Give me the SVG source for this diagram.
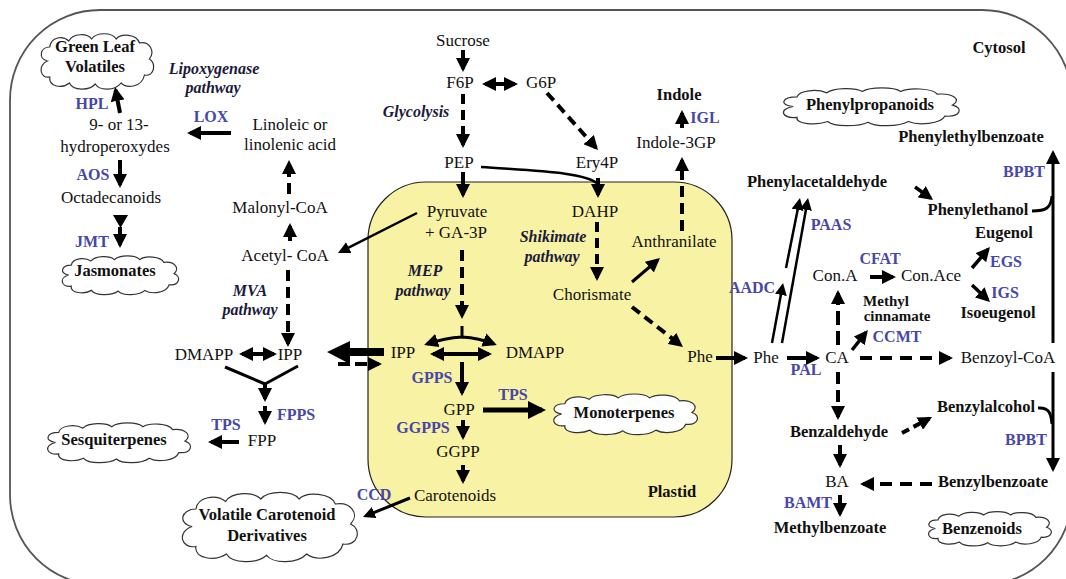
<svg xmlns="http://www.w3.org/2000/svg" xmlns:xlink="http://www.w3.org/1999/xlink" width="1066" height="579" viewBox="0 0 1066 579" font-family="Liberation Serif, Times New Roman, serif">
<style>
text{fill:#111;text-anchor:middle}
.t{font-size:17px}
.b{font-size:16.5px;font-weight:bold}
.bs{font-size:15px;font-weight:bold}
.bi{font-size:16px;font-weight:bold;font-style:italic;fill:#1a1a3a}
.e{font-size:16px;font-weight:bold;fill:#4747a8}
.s{fill:none;stroke:#000;stroke-width:4;marker-end:url(#a)}
.d{fill:none;stroke:#000;stroke-width:4;stroke-dasharray:11 6;marker-end:url(#a)}
.th{fill:none;stroke:#000;stroke-width:2.5;marker-end:url(#as)}
.dbl{fill:none;stroke:#000;stroke-width:4;marker-start:url(#a);marker-end:url(#a)}
.ln{fill:none;stroke:#000;stroke-width:3}
</style>
<defs>
<marker id="a" markerUnits="userSpaceOnUse" markerWidth="14" markerHeight="14" refX="11" refY="7" orient="auto-start-reverse"><path d="M0,0 L14,7 L0,14 Z" fill="#000"/></marker>
<marker id="as" markerUnits="userSpaceOnUse" markerWidth="12" markerHeight="12" refX="9" refY="6" orient="auto-start-reverse"><path d="M0,0 L12,6 L0,12 Z" fill="#000"/></marker>
<marker id="ab" markerUnits="userSpaceOnUse" markerWidth="18" markerHeight="18" refX="14" refY="9" orient="auto"><path d="M0,0 L18,9 L0,18 Z" fill="#000"/></marker>
<symbol id="cloud" viewBox="0 0 200 60" preserveAspectRatio="none">
<path vector-effect="non-scaling-stroke" fill="#fff" stroke="#333" stroke-width="1.2" d="M20,30 C5,28 8,16 24,16 C26,6 45,4 55,10 C62,2 85,2 92,8 C100,1 125,1 132,8 C140,2 165,3 170,12 C186,10 196,20 186,28 C198,32 194,46 178,44 C174,56 150,58 140,52 C130,60 105,60 98,53 C88,60 62,60 56,52 C44,58 22,56 24,46 C8,48 4,34 20,30 Z"/>
</symbol>
</defs>

<g id="cytosol">
<rect x="10" y="10" width="1062" height="575" rx="90" ry="90" fill="none" stroke="#555" stroke-width="1.8"/>
<text class="b" x="999" y="53">Cytosol</text>
</g>
<g id="plastid">
<rect x="368" y="182" width="364" height="335" rx="58" ry="58" fill="#f8f2a4" stroke="#222" stroke-width="1.2"/>
<text class="b" x="672" y="497">Plastid</text>
</g>

<g id="connectors">
<line class="s" x1="120" y1="113" x2="115.6" y2="90"/>
<line class="s" x1="231" y1="133" x2="190" y2="133"/>
<line class="s" x1="120" y1="160" x2="120" y2="185"/>
<polygon points="113,215 128,215 120.5,228" fill="#000"/>
<line class="s" x1="120" y1="227" x2="120" y2="245"/>
<line class="d" x1="289" y1="194" x2="289" y2="163"/>
<line class="d" style="stroke-dasharray:8 4" x1="290" y1="241" x2="290" y2="226"/>
<line class="th" x1="417" y1="213" x2="340.7" y2="251.6"/>
<line class="d" x1="288" y1="270" x2="288" y2="344"/>
<line class="dbl" x1="242" y1="354" x2="274" y2="354"/>
<path class="ln" d="M225,367 L265,384 M298,366 L265,384"/>
<line class="s" x1="265" y1="383" x2="265" y2="399"/>
<line class="s" x1="265" y1="406" x2="265" y2="422"/>
<line class="s" x1="239" y1="442" x2="211" y2="442"/>
<polygon points="327,352 350,341 350,348 384,348 384,356 350,356 350,364" fill="#000"/>
<line class="d" style="stroke-dasharray:12 5" x1="338" y1="364" x2="379" y2="364"/>
<line class="s" x1="463" y1="50" x2="463" y2="69"/>
<line class="dbl" x1="485" y1="84" x2="515" y2="84"/>
<line class="d" style="stroke-dasharray:10 6" x1="463" y1="94" x2="463" y2="145"/>
<line class="d" style="stroke-dasharray:10 6" x1="547" y1="93" x2="596" y2="147.8"/>
<line class="s" x1="682" y1="128" x2="682" y2="113"/>
<line class="d" x1="682" y1="231" x2="682" y2="160"/>
<path class="ln" style="stroke-width:2.5" d="M481,167 C535,171 585,172 598,184"/>
<line class="s" x1="598" y1="178" x2="598" y2="195"/>
<line class="s" x1="463" y1="172" x2="463" y2="195"/>
<line class="d" x1="462" y1="250" x2="462" y2="316"/>
<path class="ln" style="marker-end:url(#a)" d="M462,326 L462,337 Q445,338 427,344"/>
<path class="ln" style="marker-end:url(#a)" d="M462,337 Q479,338 494,344"/>
<line class="dbl" x1="433" y1="354" x2="489" y2="354"/>
<line class="s" x1="462" y1="362" x2="462" y2="393"/>
<line class="s" style="stroke-width:5;marker-end:url(#ab)" x1="483" y1="410" x2="542" y2="410"/>
<line class="s" x1="463" y1="420" x2="463" y2="437"/>
<line class="s" x1="463" y1="465" x2="463" y2="481"/>
<line class="th" style="stroke-width:3" x1="410" y1="498" x2="365.8" y2="515.9"/>
<line class="d" style="stroke-dasharray:10 6" x1="597" y1="222" x2="597" y2="278"/>
<line class="s" style="stroke-width:3" x1="632" y1="282" x2="657.7" y2="260"/>
<line class="d" style="stroke-dasharray:10 6" x1="632" y1="307" x2="680.6" y2="345.1"/>
<line class="s" x1="716" y1="358" x2="745" y2="358"/>
<line class="th" x1="782" y1="343" x2="807.5" y2="201"/>
<line class="th" x1="772" y1="343" x2="782.5" y2="286"/>
<line class="th" x1="786" y1="268" x2="799.4" y2="201"/>
<line class="s" x1="787" y1="358" x2="817" y2="358"/>
<line class="d" style="stroke-dasharray:12 8" x1="860" y1="358" x2="950" y2="358"/>
<line class="d" style="stroke-dasharray:14 6" x1="838" y1="345" x2="838" y2="293"/>
<line class="d" style="stroke-dasharray:12 6" x1="838" y1="372" x2="838" y2="417"/>
<line class="s" style="stroke-width:3.5" x1="852" y1="350" x2="866" y2="332.3"/>
<line class="s" x1="870" y1="277" x2="893" y2="277"/>
<line class="s" style="stroke-width:3.5" x1="972" y1="268" x2="988" y2="249.3"/>
<line class="s" style="stroke-width:3.5" x1="972" y1="285" x2="987.8" y2="299.9"/>
<line class="s" style="stroke-width:3.5" x1="915" y1="187" x2="930.6" y2="198.2"/>
<line class="s" style="stroke-width:3" x1="1053" y1="343" x2="1053" y2="153"/>
<path class="ln" d="M1032,211 C1046,211 1051,208 1052,196"/>
<line class="s" style="stroke-width:3" x1="1053" y1="372" x2="1053" y2="469"/>
<path class="ln" d="M1038,408 C1048,407 1051,412 1052,424"/>
<line class="d" style="stroke-dasharray:8 5" x1="902" y1="433" x2="929.4" y2="418.4"/>
<line class="s" x1="840" y1="445" x2="840" y2="465"/>
<line class="d" style="stroke-dasharray:12 8" x1="932" y1="484" x2="863" y2="484"/>
<line class="s" x1="840" y1="495" x2="840" y2="514"/>
</g>

<g id="green-leaf-volatiles"><use href="#cloud" x="35" y="31" width="123" height="60"/><text class="b" x="95" y="52">Green Leaf</text><text class="b" x="95" y="72">Volatiles</text></g>
<g id="jasmonates"><use href="#cloud" x="56" y="254" width="127" height="42"/><text class="b" x="115" y="276">Jasmonates</text></g>
<g id="sesquiterpenes"><use href="#cloud" x="40" y="421" width="156" height="43"/><text class="b" x="114" y="445">Sesquiterpenes</text></g>
<g id="volatile-carotenoid"><use href="#cloud" x="173" y="489" width="191" height="75"/><text class="b" x="267" y="520">Volatile Carotenoid</text><text class="b" x="267" y="541">Derivatives</text></g>
<g id="monoterpenes"><use href="#cloud" x="546" y="392" width="157" height="44"/><text class="b" x="624" y="418">Monoterpenes</text></g>
<g id="phenylpropanoids"><use href="#cloud" x="774" y="86" width="192" height="41"/><text class="b" x="870" y="110">Phenylpropanoids</text></g>
<g id="benzenoids"><use href="#cloud" x="922" y="510" width="134" height="37"/><text class="b" x="982" y="534">Benzenoids</text></g>

<g id="labels-pathways">
<text class="bi" x="214" y="74">Lipoxygenase</text><text class="bi" x="213" y="93">pathway</text>
<text class="bi" x="416" y="117">Glycolysis</text>
<text class="bi" x="250" y="296">MVA</text><text class="bi" x="250" y="315">pathway</text>
<text class="bi" x="425" y="276">MEP</text><text class="bi" x="423" y="296">pathway</text>
<text class="bi" x="553" y="242">Shikimate</text><text class="bi" x="552" y="262">pathway</text>
</g>

<g id="enzymes">
<text class="e" x="92" y="109">HPL</text>
<text class="e" x="211" y="122">LOX</text>
<text class="e" x="93" y="180">AOS</text>
<text class="e" x="92" y="247">JMT</text>
<text class="e" x="296" y="420">FPPS</text>
<text class="e" x="226" y="430">TPS</text>
<text class="e" x="432" y="383">GPPS</text>
<text class="e" x="513" y="400">TPS</text>
<text class="e" x="423" y="433">GGPPS</text>
<text class="e" x="374" y="500">CCD</text>
<text class="e" x="705" y="123">IGL</text>
<text class="e" x="752" y="293">AADC</text>
<text class="e" x="831" y="230">PAAS</text>
<text class="e" x="880" y="264">CFAT</text>
<text class="e" x="1006" y="267">EGS</text>
<text class="e" x="1005" y="298">IGS</text>
<text class="e" x="897" y="342">CCMT</text>
<text class="e" x="806" y="375">PAL</text>
<text class="e" x="1024" y="177">BPBT</text>
<text class="e" x="1026" y="445">BPBT</text>
<text class="e" x="808" y="508">BAMT</text>
</g>

<g id="n-hydroperoxydes"><text class="t" x="119" y="130">9- or 13-</text><text class="t" x="115" y="152">hydroperoxydes</text></g>
<g id="n-linoleic"><text class="t" x="290" y="130">Linoleic or</text><text class="t" x="290" y="150">linolenic acid</text></g>
<g id="n-octadecanoids"><text class="t" x="111" y="203">Octadecanoids</text></g>
<g id="n-malonyl"><text class="t" x="280" y="213">Malonyl-CoA</text></g>
<g id="n-acetyl"><text class="t" x="285" y="261">Acetyl- CoA</text></g>
<g id="n-dmapp-c"><text class="t" x="204" y="360">DMAPP</text></g>
<g id="n-ipp-c"><text class="t" x="290" y="360">IPP</text></g>
<g id="n-fpp"><text class="t" x="262" y="446">FPP</text></g>
<g id="n-sucrose"><text class="t" x="463" y="46">Sucrose</text></g>
<g id="n-f6p"><text class="t" x="460" y="88">F6P</text></g>
<g id="n-g6p"><text class="t" x="541" y="88">G6P</text></g>
<g id="n-pep"><text class="t" x="459" y="168">PEP</text></g>
<g id="n-ery4p"><text class="t" x="597" y="168">Ery4P</text></g>
<g id="n-indole"><text class="b" x="679" y="100">Indole</text></g>
<g id="n-indole3gp"><text class="t" x="676" y="148">Indole-3GP</text></g>
<g id="n-pyruvate"><text class="t" x="457" y="217">Pyruvate</text><text class="t" x="456" y="238">+ GA-3P</text></g>
<g id="n-dahp"><text class="t" x="595" y="217">DAHP</text></g>
<g id="n-anthranilate"><text class="t" x="674" y="247">Anthranilate</text></g>
<g id="n-chorismate"><text class="t" x="592" y="300">Chorismate</text></g>
<g id="n-ipp-p"><text class="t" x="403" y="358">IPP</text></g>
<g id="n-dmapp-p"><text class="t" x="535" y="358">DMAPP</text></g>
<g id="n-phe-p"><text class="t" x="700" y="362">Phe</text></g>
<g id="n-gpp"><text class="t" x="459" y="415">GPP</text></g>
<g id="n-ggpp"><text class="t" x="458" y="457">GGPP</text></g>
<g id="n-carotenoids"><text class="t" x="455" y="501">Carotenoids</text></g>
<g id="n-phe-c"><text class="t" x="766" y="363">Phe</text></g>
<g id="n-ca"><text class="t" x="837" y="363">CA</text></g>
<g id="n-cona"><text class="t" x="835" y="281">Con.A</text></g>
<g id="n-conace"><text class="t" x="931" y="281">Con.Ace</text></g>
<g id="n-benzoylcoa"><text class="t" x="1008" y="363">Benzoyl-CoA</text></g>
<g id="n-ba"><text class="t" x="837" y="487">BA</text></g>
<g id="n-phenylethylbenzoate"><text class="b" x="971" y="142">Phenylethylbenzoate</text></g>
<g id="n-phenylacetaldehyde"><text class="b" x="817" y="187">Phenylacetaldehyde</text></g>
<g id="n-phenylethanol"><text class="b" x="978" y="215">Phenylethanol</text></g>
<g id="n-eugenol"><text class="b" x="1004" y="238">Eugenol</text></g>
<g id="n-isoeugenol"><text class="b" x="998" y="318">Isoeugenol</text></g>
<g id="n-methylcinnamate"><text class="bs" x="886" y="306">Methyl</text><text class="bs" x="897" y="321">cinnamate</text></g>
<g id="n-benzaldehyde"><text class="b" x="839" y="437">Benzaldehyde</text></g>
<g id="n-benzylalcohol"><text class="b" x="986" y="412">Benzylalcohol</text></g>
<g id="n-benzylbenzoate"><text class="b" x="993" y="487">Benzylbenzoate</text></g>
<g id="n-methylbenzoate"><text class="b" x="830" y="533">Methylbenzoate</text></g>
</svg>
